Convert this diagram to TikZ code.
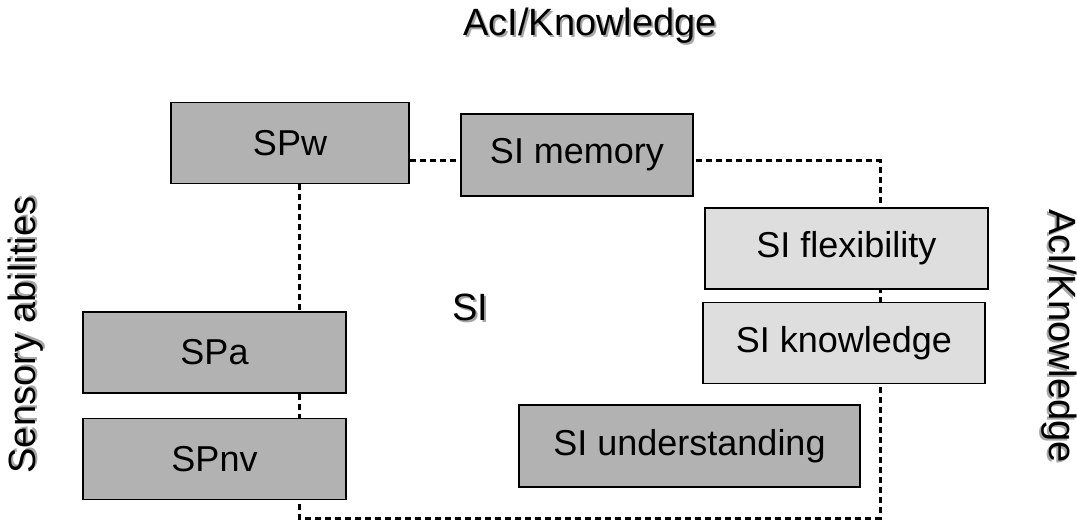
\documentclass[tikz,border=0pt]{standalone}
\usepackage{fontspec}
\setmainfont{Liberation Sans}
\usepackage{xcolor}
\usetikzlibrary{positioning,backgrounds}

\definecolor{boxdark}{gray}{0.70}
\definecolor{boxlight}{gray}{0.87}
\definecolor{shadowgray}{gray}{0.65}
\newcommand{\shadowed}[1]{\makebox[0pt][l]{\hspace{1pt}\raisebox{-1pt}{\textcolor{shadowgray}{#1}}}#1}

\begin{document}
\begin{tikzpicture}[
  x=0.5pt, y=-0.5pt,
  node distance=6pt and 10pt,
  every node/.style={font=\fontsize{18}{21}\selectfont},
  box/.style={draw, line width=0.75pt, inner sep=0pt, minimum height=40.5pt, align=center},
  dark/.style={box, fill=boxdark},
  light/.style={box, fill=boxlight},
  axislabel/.style={inner sep=0pt, font=\fontsize{19}{22}\selectfont},
  link/.style={line width=1.5pt, dash pattern=on 3pt off 2pt}
]
\useasboundingbox (0,0) rectangle (1077,524);

% boxes
\node[dark, minimum width=119pt] (spw) at (290,143) {SPw};
\node[dark, minimum width=116pt, minimum height=41pt] (mem) at (577,155) {SI memory};
\node[light, minimum width=141.5pt] (flex) at (846.5,248.5) {SI flexibility};
\node[light, minimum width=141pt, below=6pt of flex.south west, anchor=north west, xshift=-1pt] (know) {SI knowledge};
\node[dark, minimum width=131.5pt] (spa) at (214.5,352.5) {SPa};
\node[dark, minimum width=131.5pt, below=12pt of spa] (spnv) {SPnv};
\node[dark, minimum width=170.5pt, minimum height=41pt] (und) at (689.5,446) {SI understanding};

% labels
\node[axislabel] (top) at (590,27) {\shadowed{AcI/Knowledge}};
\node[axislabel, rotate=90] (sens) at (27,335) {\shadowed{Sensory abilities}};
\node[axislabel, rotate=-90] (right) at (1058,336) {\shadowed{AcI/Knowledge}};
\node[axislabel] (si) at (470,308) {\shadowed{SI}};

% dashed frame behind the boxes
\coordinate (ne) at (880,161);
\coordinate (sw) at (299,518);
\coordinate (se) at (880,518);
\begin{scope}[on background layer]
\draw[link] (spw.east |- ne) -- (mem.west |- ne);
\draw[link] (spw.south -| sw) -- (sw) -- (se) -- (ne) -- (mem.east |- ne);
\end{scope}
\end{tikzpicture}
\end{document}
